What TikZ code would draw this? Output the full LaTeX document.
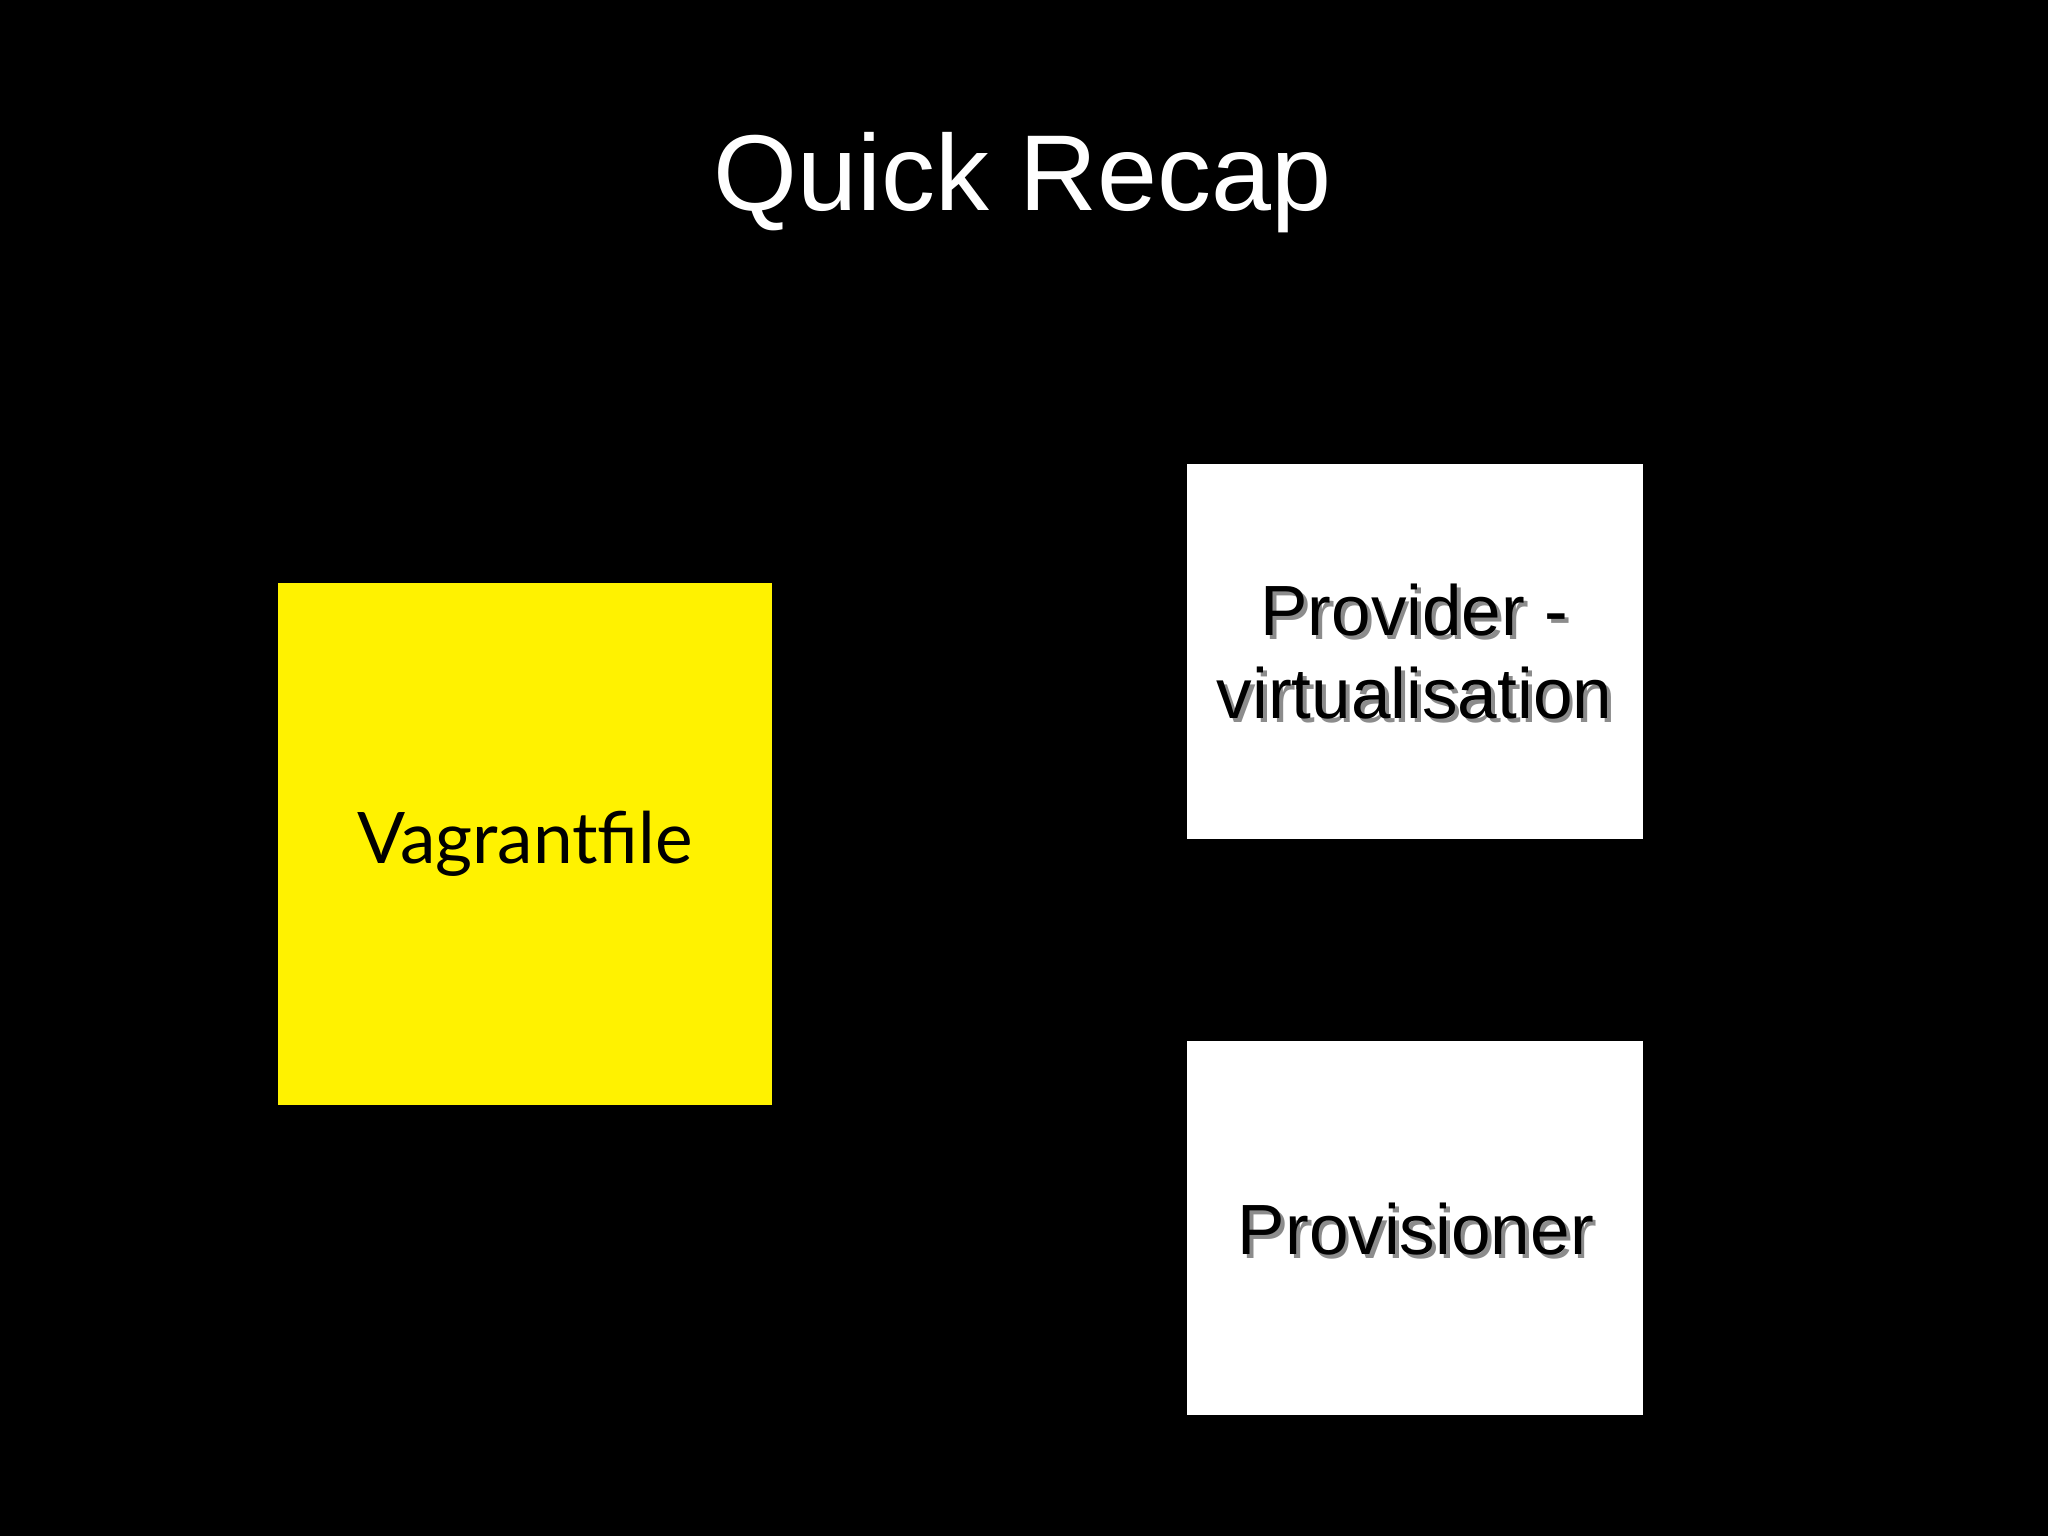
\documentclass[tikz,border=0pt]{standalone}
\usepackage{fontspec}
\setmainfont{Liberation Sans}
\newfontfamily\gill{Lato}
\begin{document}
\begin{tikzpicture}[x=0.02cm,y=-0.02cm]
\fill[black] (0,0) rectangle (1568,1176);
\useasboundingbox (0,0) rectangle (1568,1176);
\tikzset{wbox/.style={fill=white,draw=none},
  btxt/.style={align=center,font=\fontsize{31}{36}\selectfont,text=black},
  shtxt/.style={align=center,font=\fontsize{31}{36}\selectfont,text=black!45}}
\node[text=white,font=\fontsize{47}{56}\selectfont] (title) at (783,140) {Quick Recap};
\fill[yellow] (213,446) rectangle (591,846);
\node[font=\gill\fontsize{31}{36}\selectfont] (vf) at (402,646) {Vagrantfile};
\fill[wbox] (909,355) rectangle (1258,642);
\node[shtxt] at (1086,502) {Provider -\\virtualisation};
\node[btxt] (prov) at (1083,499) {Provider -\\virtualisation};
\fill[wbox] (909,797) rectangle (1258,1083);
\node[shtxt] at (1087,944) {Provisioner};
\node[btxt] (provis) at (1084,941) {Provisioner};
\end{tikzpicture}
\end{document}
